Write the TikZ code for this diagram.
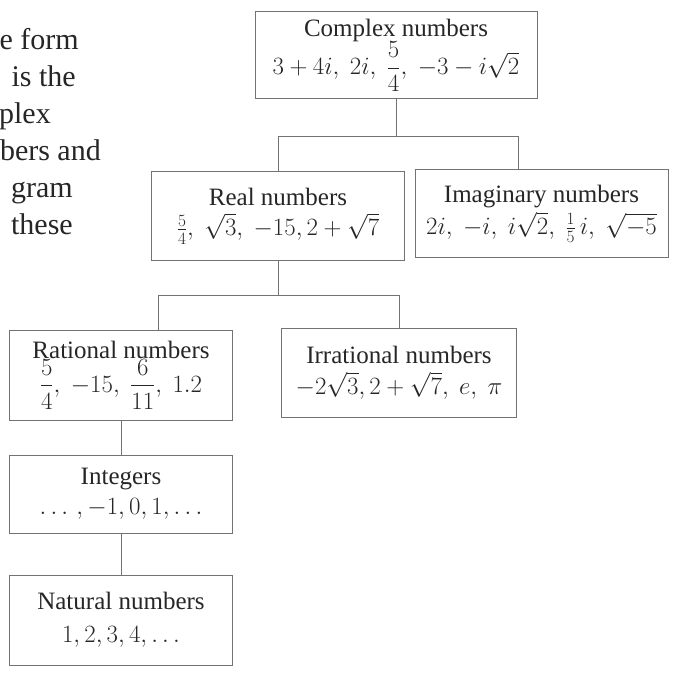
\documentclass[tikz,border=0pt]{standalone}
\usepackage{amsmath}
\usepackage{fontspec}
\setmainfont{Liberation Serif}
\DeclareMathSizes{25}{23}{17}{13}
\begin{document}
\begin{tikzpicture}[x=1pt,y=-1pt,
  numbox/.style={draw=black!55, line width=1pt, inner sep=0pt, align=center, text=black!85,
    font=\fontsize{25}{33}\selectfont, execute at begin node={\lineskiplimit=-50pt}},
  conn/.style={draw=black!55, line width=1pt},
  sidetext/.style={anchor=base east, inner sep=0pt, font=\fontsize{30}{36}\selectfont, text=black!85}]
\useasboundingbox (0,0) rectangle (677,676);
\begin{scope}
\clip (0,0) rectangle (677,676);
\node[sidetext] (s1) at (79,50) {e form};
\node[sidetext] (s2) at (76,87) {is the};
\node[sidetext] (s3) at (51,124) {plex};
\node[sidetext] (s4) at (101,161) {bers and};
\node[sidetext] (s5) at (73,198) {gram};
\node[sidetext] (s6) at (73,235) {these};
\end{scope}

\node[numbox, minimum width=282pt, minimum height=87pt] (complex) at (396,55.5)
  {Complex numbers\\[5pt] $3+4i,\ 2i,\ \dfrac{5}{4},\ -3-i\sqrt{2}$};
\node[numbox, minimum width=253pt, minimum height=89pt] (real) at (278,216.5)
  {Real numbers\\[-3pt] $\tfrac{5}{4},\ \sqrt{3},\ -15, 2+\sqrt{7}$};
\node[numbox, minimum width=253pt, minimum height=88pt] (imag) at (541.5,214)
  {Imaginary numbers\\[-1pt] $2i,\ -i,\ i\sqrt{2},\ \tfrac{1}{5}\,i,\ \sqrt{-5}$};
\node[numbox, minimum width=223pt, minimum height=90pt] (rational) at (121,375)
  {Rational numbers\\[1pt] $\dfrac{5}{4},\ -15,\ \dfrac{6}{11},\ 1.2$};
\node[numbox, minimum width=235pt, minimum height=89pt] (irrational) at (399,372.5)
  {Irrational numbers\\[-2pt] $-2\sqrt{3}, 2+\sqrt{7},\ e,\ \pi$};
\node[numbox, minimum width=223pt, minimum height=78pt] (integers) at (121,494)
  {Integers\\[-3pt] $\ldots\,, -1, 0, 1, \ldots$};
\node[numbox, minimum width=223pt, minimum height=90pt] (natural) at (121,620)
  {Natural numbers\\ $1, 2, 3, 4, \ldots$};

\coordinate (b1) at (278,137);
\coordinate (b2) at (518,137);
\draw[conn] (complex.south) -- (complex.south |- b1);
\draw[conn] (real.north) |- (b2) -- (imag.north -| b2);

\coordinate (c1) at (158,295);
\coordinate (c2) at (399,295);
\draw[conn] (real.south) -- (real.south |- c1);
\draw[conn] (rational.north -| c1) |- (c2) -- (irrational.north);

\draw[conn] (rational.south) -- (integers.north);
\draw[conn] (integers.south) -- (natural.north);
\end{tikzpicture}
\end{document}
